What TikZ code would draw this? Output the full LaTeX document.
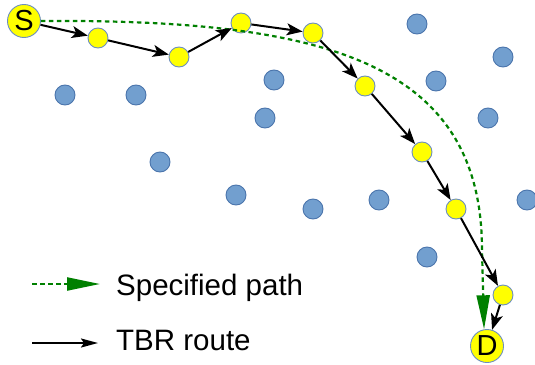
\documentclass[tikz,border=0pt]{standalone}
\usepackage{fontspec}
\setmainfont{Liberation Sans}
\usetikzlibrary{arrows.meta}
\definecolor{ylw}{HTML}{FFFF00}
\definecolor{nodeedge}{HTML}{6C8EBF}
\definecolor{bluefill}{HTML}{729FCF}
\definecolor{blueedge}{HTML}{4A74AC}
\definecolor{pathgreen}{HTML}{008000}
\tikzset{
  yel/.style={circle, draw=nodeedge, line width=0.9pt, fill=ylw, minimum size=20pt, inner sep=0pt},
  endpt/.style={circle, draw=nodeedge, line width=0.9pt, fill=ylw, minimum size=33pt, inner sep=0pt, font=\fontsize{29}{29}\selectfont},
  blu/.style={circle, draw=blueedge, line width=0.9pt, fill=bluefill, minimum size=20pt, inner sep=0pt},
  tbr/.style={line width=2pt, -{Stealth[length=16pt,width=12pt,inset=4pt]}},
  spec/.style={line width=2.2pt, pathgreen, dash pattern=on 4.5pt off 3.5pt, -{Triangle[length=34pt,width=13pt]}},
  legtext/.style={anchor=base west, inner sep=0pt, font=\fontsize{29.5}{30}\selectfont}
}
\begin{document}
\begin{tikzpicture}[x=1pt,y=-1pt]
\useasboundingbox (0,0) rectangle (535,364);
% blue nodes
\node[blu] (b1) at (65,95) {};
\node[blu] (b2) at (136,95) {};
\node[blu] (b3) at (274,80) {};
\node[blu] (b4) at (265,118) {};
\node[blu] (b5) at (417,24) {};
\node[blu] (b6) at (503,57) {};
\node[blu] (b7) at (436,81) {};
\node[blu] (b8) at (488,118) {};
\node[blu] (b9) at (160,162) {};
\node[blu] (b10) at (236,195) {};
\node[blu] (b11) at (313,209) {};
\node[blu] (b12) at (379,200) {};
\node[blu] (b13) at (527,200) {};
\node[blu] (b14) at (427,257) {};
% route nodes
\node[endpt] (S) at (24,21) {S};
\node[yel] (n1) at (98,38) {};
\node[yel] (n2) at (179,57) {};
\node[yel] (n3) at (241,23) {};
\node[yel] (n4) at (313,33) {};
\node[yel] (n5) at (365,86) {};
\node[yel] (n6) at (422,152) {};
\node[yel] (n7) at (456,209) {};
\node[yel] (n8) at (503,295) {};
\node[endpt] (D) at (487,346) {D};
% specified path
\coordinate (g1) at (482,250);
\draw[spec] (S.east) .. controls (320,19) and (482,60) .. (g1) -- (D.100);
% TBR route
\draw[tbr] (S) -- (n1);
\draw[tbr] (n1) -- (n2);
\draw[tbr] (n2) -- (n3);
\draw[tbr] (n3) -- (n4);
\draw[tbr] (n4) -- (n5);
\draw[tbr] (n5) -- (n6);
\draw[tbr] (n6) -- (n7);
\draw[tbr] (n7) -- (n8);
\draw[tbr] (n8) -- (D);
% legend
\coordinate (lg1) at (32,284);
\coordinate (lg2) at (100,284);
\coordinate (lb1) at (32,343);
\coordinate (lb2) at (98,343);
\draw[spec, -{Triangle[length=33pt,width=13pt]}] (lg1) -- (lg2);
\draw[line width=2pt, -{Stealth[length=17pt,width=9pt,inset=3pt]}] (lb1) -- (lb2);
\node[legtext] (t1) at (116,295) {Specified path};
\node[legtext] (t2) at (116,350) {TBR route};
\end{tikzpicture}
\end{document}
